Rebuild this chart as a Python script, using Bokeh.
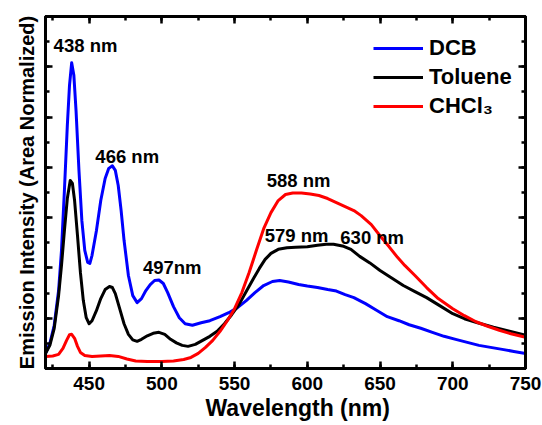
from bokeh.plotting import figure
from bokeh.models import (Range1d, LinearAxis, SingleIntervalTicker,
                          CustomJSTickFormatter, Legend, LegendItem, Label, Title)
from bokeh.embed import file_html
from bokeh.resources import INLINE

# Emission spectra (area normalized, arbitrary units)
wl_dcb = [420, 423, 426, 429, 431, 433, 435, 436.5, 438, 439.5, 441, 443, 445, 447,
          449, 450.5, 452, 455, 458, 461, 463.5, 466, 468, 470, 472, 474, 477, 480,
          483, 486, 489, 492, 495, 498, 501, 504, 508, 512, 516, 521, 527, 533, 540,
          546, 552, 558, 564, 570, 576, 581, 587, 594, 600, 607, 614, 620, 626, 632,
          640, 647, 655, 663, 670, 678, 686, 694, 702, 710, 718, 726, 734, 742, 750]
int_dcb = [0.30, 0.50, 0.86, 1.55, 2.35, 3.54, 4.83, 5.63, 6.08, 5.83, 5.13, 3.94, 2.94,
           2.35, 2.11, 2.09, 2.25, 2.74, 3.34, 3.78, 3.98, 4.03, 3.94, 3.64, 3.14, 2.55,
           1.85, 1.45, 1.31, 1.39, 1.55, 1.67, 1.75, 1.76, 1.69, 1.51, 1.23, 1.01, 0.89,
           0.86, 0.91, 0.95, 1.03, 1.11, 1.21, 1.35, 1.51, 1.65, 1.73, 1.75, 1.72, 1.67,
           1.64, 1.61, 1.57, 1.54, 1.47, 1.41, 1.29, 1.17, 1.03, 0.95, 0.87, 0.80, 0.72,
           0.64, 0.58, 0.52, 0.46, 0.42, 0.38, 0.34, 0.30]

wl_tol = [420, 423, 426, 429, 431, 433, 435, 437, 438.5, 440, 442, 444, 446, 448, 450,
          452, 455, 458, 461, 464, 466, 468, 471, 474, 477, 480, 483, 486, 490, 494,
          498, 502, 506, 510, 514, 518, 523, 528, 533, 538, 543, 548, 553, 558, 563,
          567, 571, 575, 580, 586, 592, 600, 607, 613, 618, 625, 630, 636, 643, 650,
          658, 666, 674, 682, 691, 700, 708, 717, 728, 739, 750]
int_tol = [0.30, 0.46, 0.80, 1.45, 2.05, 2.74, 3.38, 3.74, 3.68, 3.34, 2.64, 1.91, 1.35,
           1.01, 0.89, 0.95, 1.15, 1.39, 1.57, 1.63, 1.61, 1.49, 1.19, 0.89, 0.68, 0.57,
           0.54, 0.58, 0.65, 0.70, 0.72, 0.68, 0.58, 0.51, 0.46, 0.44, 0.48, 0.56, 0.64,
           0.74, 0.89, 1.07, 1.27, 1.53, 1.79, 1.99, 2.17, 2.29, 2.37, 2.40, 2.41, 2.42,
           2.45, 2.47, 2.47, 2.43, 2.37, 2.23, 2.10, 1.95, 1.80, 1.65, 1.53, 1.41, 1.25,
           1.09, 0.99, 0.91, 0.82, 0.74, 0.66]

wl_chcl3 = [420, 425, 429, 432, 434.5, 436.5, 438, 440, 442, 444, 447, 452, 458, 464,
            470, 476, 482, 490, 500, 508, 515, 520, 525, 530, 535, 540, 545, 550, 555,
            560, 565, 570, 575, 580, 585, 590, 596, 602, 608, 614, 620, 626, 632, 637,
            644, 650, 656, 662, 667, 674, 682, 690, 700, 708, 716, 724, 732, 740, 750]
int_chcl3 = [0.24, 0.25, 0.28, 0.40, 0.56, 0.67, 0.68, 0.60, 0.44, 0.32, 0.26, 0.24,
             0.25, 0.26, 0.24, 0.19, 0.15, 0.14, 0.14, 0.15, 0.18, 0.22, 0.30, 0.42,
             0.56, 0.74, 0.95, 1.19, 1.51, 1.91, 2.35, 2.78, 3.10, 3.34, 3.46, 3.49,
             3.49, 3.47, 3.44, 3.38, 3.30, 3.22, 3.14, 3.04, 2.86, 2.64, 2.43, 2.21,
             2.05, 1.85, 1.61, 1.39, 1.19, 1.05, 0.93, 0.84, 0.76, 0.69, 0.62]

series_names = ["DCB", "Toluene", "CHCl\u2083"]
series_colors = ["#0000ff", "#000000", "#ff0000"]

FONT = "Liberation Sans"

p = figure(width=542, height=425, output_backend="svg", toolbar_location=None,
           x_range=Range1d(420, 750), y_range=Range1d(0, 7),
           min_border_left=45, min_border_right=17, min_border_top=16,
           min_border_bottom=57)
p.grid.visible = False
p.background_fill_color = "white"
p.border_fill_color = "white"
p.outline_line_color = "black"
p.outline_line_width = 3

xticker = SingleIntervalTicker(interval=50, num_minor_ticks=2)
yticker = SingleIntervalTicker(interval=1, num_minor_ticks=2)
blank = CustomJSTickFormatter(code="return ''")


def style_axis(ax):
    ax.axis_line_width = 3
    ax.major_tick_in = 7
    ax.major_tick_out = 0
    ax.minor_tick_in = 4
    ax.minor_tick_out = 0
    ax.major_tick_line_width = 2.5
    ax.minor_tick_line_width = 2.5
    ax.major_label_text_font = FONT
    ax.major_label_text_font_style = "bold"
    ax.major_label_text_color = "black"
    ax.axis_label_text_font = FONT
    ax.axis_label_text_font_style = "bold"
    ax.axis_label_text_color = "black"


xa = p.xaxis[0]
xa.ticker = xticker
style_axis(xa)
xa.major_label_text_font_size = "19px"
xa.major_label_standoff = 8

# x-axis title, set slightly right of the frame centre
xtitle = Title(text="Wavelength (nm)", align="left", offset=160, standoff=1,
               text_font=FONT, text_font_style="bold", text_font_size="23px",
               text_color="black")
p.add_layout(xtitle, "below")

ya = p.yaxis[0]
ya.ticker = yticker
ya.formatter = blank
style_axis(ya)
ya.major_label_text_font_size = "0px"
ya.major_label_standoff = 0
ya.axis_label = "Emission Intensity (Area Normalized)"
ya.axis_label_text_font_size = "20px"
ya.axis_label_standoff = 8

top = LinearAxis(ticker=xticker, formatter=blank, major_label_text_font_size="0px",
                 major_label_standoff=0)
style_axis(top)
p.add_layout(top, "above")

right = LinearAxis(ticker=yticker, formatter=blank, major_label_text_font_size="0px",
                   major_label_standoff=0)
style_axis(right)
p.add_layout(right, "right")

renderers = []
for wl, inten, color in [(wl_dcb, int_dcb, series_colors[0]),
                         (wl_tol, int_tol, series_colors[1]),
                         (wl_chcl3, int_chcl3, series_colors[2])]:
    r = p.line(wl, inten, line_color=color, line_width=3, line_join="round")
    renderers.append(r)

legend = Legend(items=[LegendItem(label=n, renderers=[r]) for n, r in zip(series_names, renderers)],
                location=(328, 249))
legend.border_line_color = None
legend.background_fill_alpha = 0
legend.padding = 0
legend.margin = 0
legend.glyph_width = 50
legend.glyph_height = 24
legend.label_height = 24
legend.spacing = 3
legend.label_standoff = 6
legend.label_text_font = FONT
legend.label_text_font_size = "22px"
legend.label_text_font_style = "bold"
legend.label_text_color = "black"
p.add_layout(legend)

# peak annotations
peak_labels = [("438 nm", 447.5, 6.42), ("466 nm", 476.2, 4.22), ("497nm", 507.1, 2.01),
               ("588 nm", 594.0, 3.74), ("579 nm", 592.6, 2.64), ("630 nm", 644.6, 2.60)]
for txt, lx, ly in peak_labels:
    p.add_layout(Label(x=lx, y=ly, text=txt, text_align="center", text_baseline="middle",
                       text_font=FONT, text_font_style="bold", text_font_size="18.5px",
                       text_color="black"))

open("out.html", "w").write(file_html(p, INLINE))
